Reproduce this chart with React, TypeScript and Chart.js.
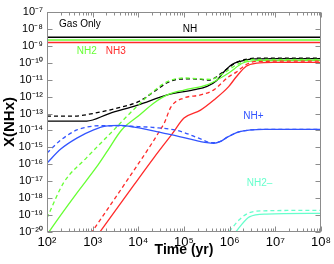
import { useEffect, useRef } from 'react';
import { Chart, registerables } from 'chart.js';

Chart.register(...registerables);

// ---- axis ticks ----
const X_TICKS = [1e2, 1e3, 1e4, 1e5, 1e6, 1e7, 1e8];
const Y_TICKS = [1e-20, 1e-19, 1e-18, 1e-17, 1e-16, 1e-15, 1e-14, 1e-13, 1e-12, 1e-11, 1e-10, 1e-9, 1e-8, 1e-7];

// ---- gas-only reference levels ----
const GAS_T = [1e2, 1e8];
const GAS_NH = [3.2e-9, 3.2e-9];
const GAS_NH2 = [2.2e-9, 2.2e-9];
const GAS_NH3 = [1.6e-9, 1.6e-9];

// ---- NH ----
const NH_T = [1e2, 7.4e2, 2.3e3, 1e4, 4.3e4, 1.6e5, 3.2e5, 5.2e5, 7.1e5, 1.12e6, 1.78e6, 3.2e6, 1e7, 1e8];
const NH_SOLID = [3.6e-14, 3.6e-14, 1e-13, 3.2e-13, 1.26e-12, 2.5e-12, 4e-12, 8.9e-12, 2.5e-11, 7.9e-11, 1.26e-10, 1.7e-10, 1.78e-10, 1.78e-10];
const NH_D_T = [1e2, 4e2, 1e3, 3.2e3, 1e4, 2.2e4, 4.3e4, 7.1e4, 1.6e5, 3.5e5, 7.1e5, 1.26e6, 2.2e6, 4e6, 1e8];
const NH_DASH = [7.1e-14, 7.1e-14, 1e-13, 2e-13, 5e-13, 1.95e-12, 6.6e-12, 1.05e-11, 1.12e-11, 9.5e-12, 2.8e-11, 8.9e-11, 1.58e-10, 1.9e-10, 1.9e-10];

// ---- NH2 ----
const NH2_T = [1e2, 2e2, 4.5e2, 1.23e3, 2e3, 4.3e3, 1e4, 2.2e4, 4.3e4, 1e5, 3.2e5, 6.3e5, 9.5e5, 2e6, 4.1e6, 1e8];
const NH2_SOLID = [7e-21, 1e-19, 2e-18, 7.2e-17, 5e-16, 1.07e-14, 7.1e-14, 4.2e-13, 1.26e-12, 2.45e-12, 4.9e-12, 1.26e-11, 2.5e-11, 1e-10, 1.35e-10, 1.41e-10];
const NH2_D_T = [1e2, 2.3e2, 7.4e2, 2.9e3, 4.7e3, 1e4, 1.9e4, 4.3e4, 1e5, 3.9e5, 7.4e5, 1.6e6, 3.3e6, 1e8];
const NH2_DASH = [6.8e-20, 7.9e-18, 2.5e-16, 1.07e-14, 4.2e-14, 3.2e-13, 1.58e-12, 7.6e-12, 1.26e-11, 1.05e-11, 2.5e-11, 8.9e-11, 1.58e-10, 1.58e-10];

// ---- NH3 ----
const NH3_T = [1.35e3, 8.1e3, 2.2e4, 5.5e4, 1e5, 2.3e5, 4.5e5, 9.5e5, 1.4e6, 2.3e6, 3.9e6, 9.1e6, 1e8];
const NH3_SOLID = [7.9e-21, 6.3e-18, 2.5e-16, 6.3e-15, 5.4e-14, 1.6e-13, 6.3e-13, 3.9e-12, 1.5e-11, 6.3e-11, 9.5e-11, 1.05e-10, 1.05e-10];
const NH3_D_T = [9.1e2, 7.8e3, 2.2e4, 3e4, 3.7e4, 5.2e4, 1e5, 2.3e5, 4.5e5, 9.5e5, 1.4e6, 2.3e6, 3.9e6, 1e8];
const NH3_DASH = [7.9e-21, 4e-17, 2.7e-15, 1.07e-14, 2.75e-14, 2.5e-13, 8.3e-13, 1.26e-12, 2.5e-12, 1.5e-11, 2.8e-11, 7.9e-11, 1.2e-10, 1.26e-10];

// ---- NH+ ----
const NHP_T = [1e2, 2e2, 4.5e2, 1.05e3, 1.9e3, 3.9e3, 8.1e3, 4.3e4, 1.3e5, 3.2e5, 4.5e5, 6.3e5, 8.9e5, 1.66e6, 2.9e6, 5.5e6, 1e8];
const NHP_SOLID = [1.17e-16, 7.9e-16, 3.5e-15, 1.07e-14, 1.78e-14, 2e-14, 1.58e-14, 6.3e-15, 3.2e-15, 1.9e-15, 1.74e-15, 2.24e-15, 4e-15, 8.5e-15, 1.07e-14, 1.17e-14, 1.17e-14];
const NHP_D_T = [1e2, 2e2, 4.5e2, 7.4e2, 1.4e3, 3e3, 8.1e3, 2.2e4, 7.1e4, 2.3e5, 3.9e5, 6.3e5, 8.9e5, 1.66e6, 2.9e6, 5.5e6, 1e8];
const NHP_DASH = [4.7e-16, 2.7e-15, 1.07e-14, 1.58e-14, 1.9e-14, 1.9e-14, 1.74e-14, 1.5e-14, 1e-14, 3.2e-15, 1.9e-15, 2.24e-15, 4e-15, 8.5e-15, 1.07e-14, 1.17e-14, 1.17e-14];

// ---- NH2- ----
const NH2M_T = [1.12e6, 1.4e6, 1.66e6, 2.7e6, 6.3e6, 1e8];
const NH2M_SOLID = [5e-21, 1.12e-20, 2e-20, 7.9e-20, 1.15e-19, 1.26e-19];
const NH2M_D_T = [7.9e5, 1e6, 1.6e6, 2.7e6, 6.3e6, 1e8];
const NH2M_DASH = [5e-21, 1.12e-20, 5.1e-20, 1.38e-19, 1.8e-19, 1.9e-19];

// ---- in-plot labels (data coordinates) ----
const LABEL_TEXT = ['Gas Only', 'NH', 'NH2', 'NH3', 'NH+', 'NH2\u2013'];
const LABEL_T = [5.25e2, 1.35e5, 7.4e2, 3.2e3, 3.3e6, 4.5e6];
const LABEL_Y = [1.95e-8, 1e-8, 5e-10, 5e-10, 7e-14, 8e-18];
const LABEL_COLOR = ['#000000', '#000000', '#66ff33', '#ff2a2a', '#3355ff', '#66ffcc'];

const BLACK = '#000000';
const GREEN = '#66ff33';
const RED = '#ff2a2a';
const BLUE = '#3355ff';
const CYAN = '#66ffcc';

const FONT = "'Liberation Sans', Arial, sans-serif";

const SUP: Record<string, string> = {
  '-': '\u207B', '0': '\u2070', '1': '\u00B9', '2': '\u00B2', '3': '\u00B3',
  '4': '\u2074', '5': '\u2075', '6': '\u2076', '7': '\u2077', '8': '\u2078', '9': '\u2079',
};
const powLabel = (v: number) =>
  '10' + String(Math.round(Math.log10(v))).split('').map((c) => SUP[c] ?? c).join('');

const pts = (xs: number[], ys: number[]) => xs.map((x, i) => ({ x, y: ys[i] }));

const line = (label: string, xs: number[], ys: number[], color: string, dashed: boolean, width = 1.3) => ({
  label,
  data: pts(xs, ys),
  borderColor: color,
  backgroundColor: color,
  borderWidth: width,
  borderDash: dashed ? [4, 3] : [],
  pointRadius: 0,
  fill: false,
  cubicInterpolationMode: 'monotone' as const,
});

const framePlugin = {
  id: 'frameTicks',
  afterDatasetsDraw(chart: any) {
    const { ctx, chartArea: a, scales } = chart;
    const xs = scales.x;
    const ys = scales.y;
    ctx.save();
    ctx.strokeStyle = '#8c8c8c';
    ctx.lineWidth = 1;
    const L = Math.round(a.left) + 0.5;
    const R = Math.round(a.right) - 0.5;
    const T = Math.round(a.top) + 0.5;
    const B = Math.round(a.bottom) - 0.5;
    ctx.strokeRect(L, T, R - L, B - T);
    ctx.beginPath();
    for (let i = 0; i < X_TICKS.length; i++) {
      const base = X_TICKS[i];
      for (let m = 1; m <= 9; m++) {
        if (i === X_TICKS.length - 1 && m > 1) break;
        const px = Math.round(xs.getPixelForValue(m * base)) + 0.5;
        const len = m === 1 ? 5 : 3;
        ctx.moveTo(px, B);
        ctx.lineTo(px, B - len);
        ctx.moveTo(px, T);
        ctx.lineTo(px, T + len);
      }
    }
    for (const v of Y_TICKS) {
      const py = Math.round(ys.getPixelForValue(v)) + 0.5;
      ctx.moveTo(L, py);
      ctx.lineTo(L + 5, py);
      ctx.moveTo(R, py);
      ctx.lineTo(R - 5, py);
    }
    ctx.stroke();

    ctx.font = `10px ${FONT}`;
    ctx.textAlign = 'center';
    ctx.textBaseline = 'middle';
    for (let i = 0; i < LABEL_TEXT.length; i++) {
      ctx.fillStyle = LABEL_COLOR[i];
      ctx.fillText(LABEL_TEXT[i], xs.getPixelForValue(LABEL_T[i]), ys.getPixelForValue(LABEL_Y[i]));
    }
    ctx.restore();
  },
};

export default function App() {
  const ref = useRef<HTMLCanvasElement>(null);
  useEffect(() => {
    if (!ref.current) return;
    const chart = new Chart(ref.current, {
      type: 'line',
      data: {
        datasets: [
          line('Gas NH', GAS_T, GAS_NH, BLACK, false, 1.5),
          line('Gas NH2', GAS_T, GAS_NH2, GREEN, false, 1.5),
          line('Gas NH3', GAS_T, GAS_NH3, RED, false, 1.5),
          line('NH2- dashed', NH2M_D_T, NH2M_DASH, CYAN, true),
          line('NH2-', NH2M_T, NH2M_SOLID, CYAN, false),
          line('NH+ dashed', NHP_D_T, NHP_DASH, BLUE, true),
          line('NH+', NHP_T, NHP_SOLID, BLUE, false),
          line('NH3 dashed', NH3_D_T, NH3_DASH, RED, true),
          line('NH3', NH3_T, NH3_SOLID, RED, false),
          line('NH2 dashed', NH2_D_T, NH2_DASH, GREEN, true),
          line('NH2', NH2_T, NH2_SOLID, GREEN, false),
          line('NH dashed', NH_D_T, NH_DASH, BLACK, true),
          line('NH', NH_T, NH_SOLID, BLACK, false),
        ],
      },
      options: {
        responsive: false,
        animation: false,
        devicePixelRatio: 1,
        layout: { padding: { top: 12, right: 11, left: 0, bottom: 0 } },
        plugins: { legend: { display: false }, tooltip: { enabled: false } },
        scales: {
          x: {
            type: 'logarithmic',
            min: 1e2,
            max: 1e8,
            grid: { display: false, drawTicks: false },
            border: { display: false },
            afterBuildTicks: (s: any) => {
              s.ticks = X_TICKS.map((value) => ({ value }));
            },
            afterFit: (s: any) => {
              s.height = 32;
            },
            ticks: {
              autoSkip: false,
              maxRotation: 0,
              padding: 3,
              color: '#000',
              font: { family: FONT, size: 13 },
              callback: (v: any) => powLabel(Number(v)),
            },
            title: {
              display: true,
              text: 'Time (yr)',
              color: '#000',
              font: { family: FONT, size: 14, weight: 'bold' },
              padding: { top: 0, bottom: 5 },
            },
          },
          y: {
            type: 'logarithmic',
            min: 1e-20,
            max: 1e-7,
            grid: { display: false, drawTicks: false },
            border: { display: false },
            afterBuildTicks: (s: any) => {
              s.ticks = Y_TICKS.map((value) => ({ value }));
            },
            afterFit: (s: any) => {
              s.width = 47;
            },
            ticks: {
              autoSkip: false,
              padding: 4,
              color: '#000',
              font: { family: FONT, size: 11 },
              callback: (v: any) => powLabel(Number(v)),
            },
            title: {
              display: true,
              text: 'X(NHx)',
              color: '#000',
              font: { family: FONT, size: 15, weight: 'bold' },
              padding: { top: 1, bottom: 0 },
            },
          },
        },
      },
      plugins: [framePlugin],
    } as any);
    return () => chart.destroy();
  }, []);
  return (
    <div style={{ position: 'absolute', left: 0, top: 0, width: 334, height: 264, background: '#fff' }}>
      <canvas ref={ref} width={334} height={264} style={{ display: 'block', width: 334, height: 264 }} />
    </div>
  );
}
